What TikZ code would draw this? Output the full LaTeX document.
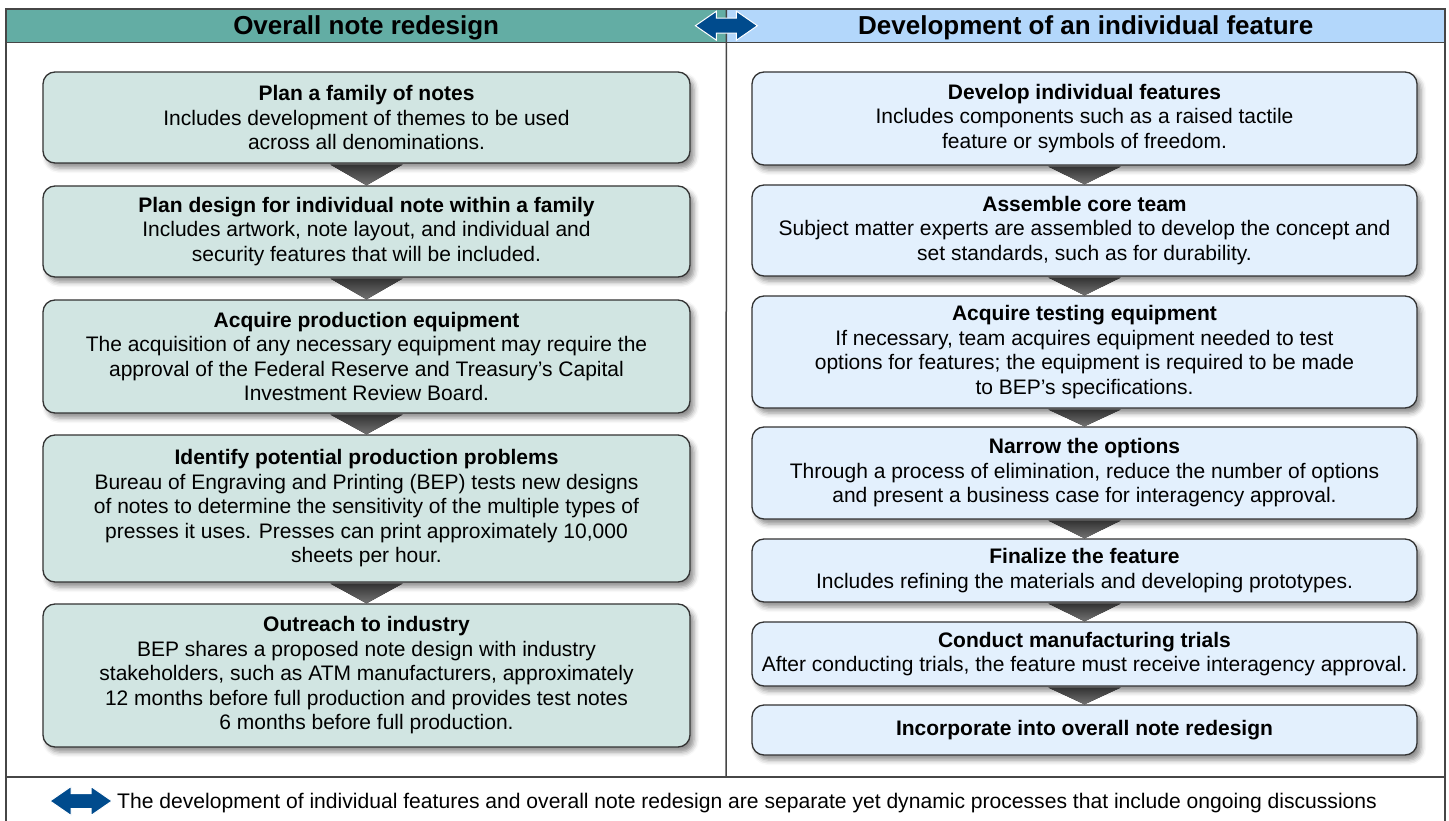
\documentclass[tikz,border=0pt]{standalone}
\usepackage{fontspec}
\setmainfont{Liberation Sans}
\usetikzlibrary{shadows.blur}

\definecolor{headteal}{RGB}{99,173,164}
\definecolor{headblue}{RGB}{179,215,251}
\definecolor{notegreen}{RGB}{209,229,226}
\definecolor{noteblue}{RGB}{227,240,253}
\definecolor{arrowblue}{RGB}{0,75,141}
\definecolor{rulegray}{RGB}{70,70,70}

\begin{document}
\begin{tikzpicture}[x=1pt, y=-1pt,
        rule/.style={draw=rulegray, line width=1.5pt},
        note/.style={draw=black!80, line width=1.3pt, rounded corners=12pt, align=center,
                inner sep=0pt, font=\fontsize{21}{24.5}\selectfont,
                blur shadow={shadow xshift=4pt, shadow yshift=-5pt, shadow blur radius=5pt, shadow opacity=45}},
        leftnote/.style={note, fill=notegreen, minimum width=647pt},
        rightnote/.style={note, fill=noteblue, minimum width=665pt},
        header/.style={anchor=north west, minimum width=720pt, minimum height=33pt, inner sep=0pt,
                text height=19pt, text depth=1pt, font=\fontsize{26}{30}\selectfont\bfseries},
        pointer/.style={top color=black!80, bottom color=black!55},
        dblarrow/.pic={
                \filldraw[fill=arrowblue, draw=white, line width=1pt]
                        (-31, 0) -- (-10, -14.5) -- (-10, -7.5) -- (10, -7.5) -- (10, -14.5) -- (31, 0)
                        -- (10, 14.5) -- (10, 7.5) -- (-10, 7.5) -- (-10, 14.5) -- cycle;
        }]
        \useasboundingbox (0, 0) rectangle (1449, 821);

        % column headers and frame
        \node[header, fill=headteal] (lefthead) at (6, 9) {Overall note redesign};
        \node[header, fill=headblue, minimum width=719pt] (righthead) at (726, 9) {Development of an individual feature};
        \draw[rule] (6, 9) rectangle (1445, 840);
        \draw[rule] (lefthead.south west) -- (righthead.south east);
        \draw[rule] (lefthead.north east) -- (726, 777);
        \draw[rule] (6, 777) -- (1445, 777);
        \pic at (lefthead.east) {dblarrow};

        % overall note redesign
        \node[leftnote, minimum height=91pt] (plan) at (366.5, 117.5)
                {\textbf{Plan a family of notes}\\Includes development of themes to be used\\across all denominations.};
        \node[leftnote, minimum height=91pt] (design) at (366.5, 231.5)
                {\textbf{Plan design for individual note within a family}\\Includes artwork, note layout, and individual and\\security features that will be included.};
        \node[leftnote, minimum height=113pt] (acquire) at (366.5, 356.5)
                {\textbf{Acquire production equipment}\\The acquisition of any necessary equipment may require the\\approval of the Federal Reserve and Treasury’s Capital\\Investment Review Board.};
        \node[leftnote, minimum height=147pt] (identify) at (366.5, 508.5)
                {\textbf{Identify potential production problems}\\Bureau of Engraving and Printing (BEP) tests new designs\\of notes to determine the sensitivity of the multiple types of\\presses it uses. Presses can print approximately 10,000\\sheets per hour.};
        \node[leftnote, minimum height=143pt] (outreach) at (366.5, 675.5)
                {\textbf{Outreach to industry}\\BEP shares a proposed note design with industry\\stakeholders, such as ATM manufacturers, approximately\\12 months before full production and provides test notes\\6 months before full production.};

        % development of an individual feature
        \node[rightnote, minimum height=93pt] (develop) at (1084.5, 118.5)
                {\textbf{Develop individual features}\\Includes components such as a raised tactile\\feature or symbols of freedom.};
        \node[rightnote, minimum height=91pt] (assemble) at (1084.5, 230.5)
                {\textbf{Assemble core team}\\Subject matter experts are assembled to develop the concept and\\set standards, such as for durability.};
        \node[rightnote, minimum height=112pt] (testing) at (1084.5, 352)
                {\textbf{Acquire testing equipment}\\If necessary, team acquires equipment needed to test\\options for features; the equipment is required to be made\\to BEP’s specifications.};
        \node[rightnote, minimum height=92pt] (narrow) at (1084.5, 473)
                {\textbf{Narrow the options}\\Through a process of elimination, reduce the number of options\\and present a business case for interagency approval.};
        \node[rightnote, minimum height=63pt] (finalize) at (1084.5, 570.5)
                {\textbf{Finalize the feature}\\Includes refining the materials and developing prototypes.};
        \node[rightnote, minimum height=64pt] (trials) at (1084.5, 654)
                {\textbf{Conduct manufacturing trials}\\After conducting trials, the feature must receive interagency approval.};
        \node[rightnote, minimum height=50pt] (incorporate) at (1084.5, 730)
                {\textbf{Incorporate into overall note redesign}};

        \foreach \a/\b in {plan/design, design/acquire, acquire/identify, identify/outreach,
                        develop/assemble, assemble/testing, testing/narrow, narrow/finalize,
                        finalize/trials, trials/incorporate}
                \fill[pointer] ([xshift=-36pt, yshift=-1pt]\a.south) -- ([xshift=36pt, yshift=-1pt]\a.south) -- (\b.north) -- cycle;

        % legend
        \pic at (81, 801) {dblarrow};
        \node[anchor=west, inner sep=0pt, font=\fontsize{21.1}{24.5}\selectfont] (legend) at (117, 803)
                {The development of individual features and overall note redesign are separate yet dynamic processes that include ongoing discussions};
\end{tikzpicture}
\end{document}
